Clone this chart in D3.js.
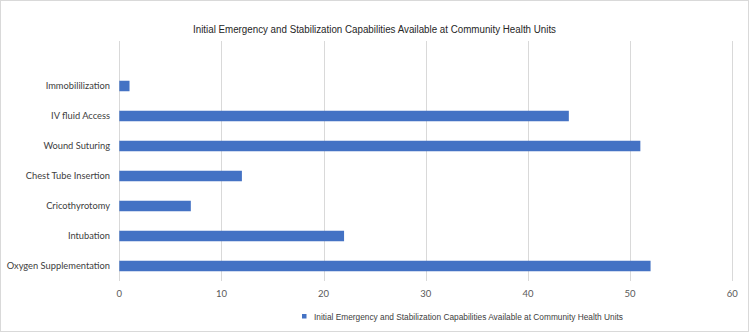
<!DOCTYPE html>
<html>
<head>
<meta charset="utf-8">
<script src="https://cdn.jsdelivr.net/npm/d3@7"></script>
<style>
  body { margin: 0; background: #fff; }
  svg { display: block; }
</style>
</head>
<body>
<svg id="chart"></svg>
<script>
const title = "Initial Emergency and Stabilization Capabilities Available at Community Health Units";
const categories = [
  "Immobililization", "IV fluid Access", "Wound Suturing", "Chest Tube Insertion",
  "Cricothyrotomy", "Intubation", "Oxygen Supplementation"
];
const values = [1, 44, 51, 12, 7, 22, 52];
const xTicks = [0, 10, 20, 30, 40, 50, 60];

const width = 750, height = 333;
const svg = d3.select("#chart").attr("width", width).attr("height", height);

// chart frame
svg.append("rect")
  .attr("x", 0.5).attr("y", 0.5)
  .attr("width", width - 2).attr("height", height - 2)
  .attr("fill", "#fff").attr("stroke", "#d9d9d9");

const plotTop = 41, plotBottom = 281;
const x = d3.scaleLinear().domain([0, 60]).range([119.3, 732.3]);
const y = d3.scaleBand()
  .domain(categories)
  .range([plotTop + 30, plotBottom])
  .paddingInner(0.65).paddingOuter(0.325);

// gridlines
svg.append("g")
  .selectAll("line")
  .data(xTicks)
  .join("line")
  .attr("x1", d => Math.round(x(d)) + 0.5)
  .attr("x2", d => Math.round(x(d)) + 0.5)
  .attr("y1", plotTop).attr("y2", plotBottom)
  .attr("stroke", "#d9d9d9").attr("stroke-width", 1);

// bars
svg.append("g")
  .selectAll("rect")
  .data(values)
  .join("rect")
  .attr("x", x(0))
  .attr("y", (d, i) => y(categories[i]))
  .attr("width", d => x(d) - x(0))
  .attr("height", y.bandwidth())
  .attr("fill", "#4472c4");

// category labels
svg.append("g")
  .selectAll("text")
  .data(categories)
  .join("text")
  .attr("x", 110)
  .attr("y", d => y(d) + y.bandwidth() / 2)
  .attr("dy", "0.35em")
  .attr("text-anchor", "end")
  .style("font-family", "Lato, sans-serif")
  .style("font-size", "9.3px")
  .attr("fill", "#404040")
  .text(d => d);

// x tick labels
svg.append("g")
  .selectAll("text")
  .data(xTicks)
  .join("text")
  .attr("x", d => x(d))
  .attr("y", 297)
  .attr("text-anchor", "middle")
  .style("font-family", "Lato, sans-serif")
  .style("font-size", "9.5px")
  .attr("fill", "#595959")
  .text(d => d);

// title
svg.append("text")
  .attr("x", 193).attr("y", 32.5)
  .attr("textLength", 363).attr("lengthAdjust", "spacingAndGlyphs")
  .style("font-family", "'Liberation Sans', Arial, sans-serif")
  .style("font-size", "10px")
  .attr("fill", "#262626")
  .text(title);

// legend
const legend = svg.append("g");
legend.append("rect")
  .attr("x", 302).attr("y", 314)
  .attr("width", 4.5).attr("height", 4.5)
  .attr("fill", "#4472c4");
legend.append("text")
  .attr("x", 314).attr("y", 319.5)
  .attr("textLength", 309).attr("lengthAdjust", "spacingAndGlyphs")
  .style("font-family", "'Liberation Sans', Arial, sans-serif")
  .style("font-size", "8.5px")
  .attr("fill", "#404040")
  .text(title);
</script>
</body>
</html>
